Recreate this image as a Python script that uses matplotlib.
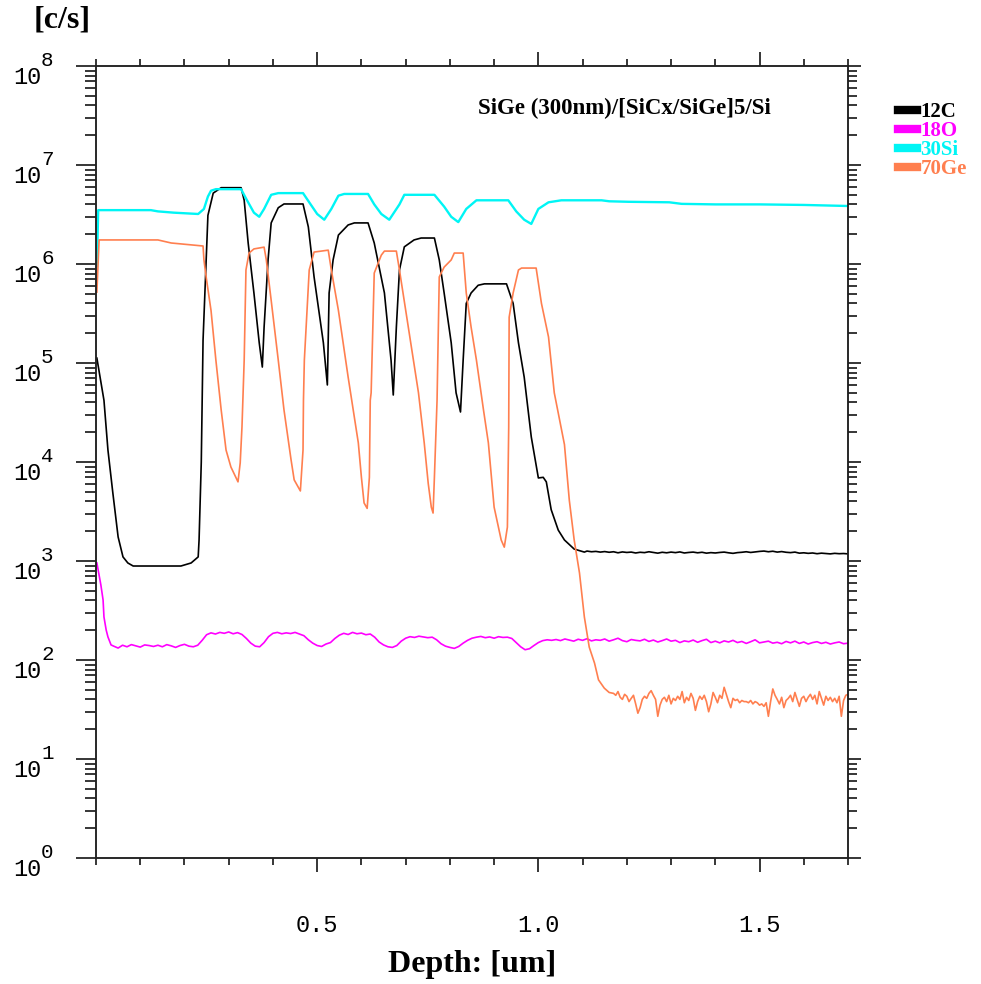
import matplotlib
matplotlib.use("Agg")
import matplotlib.pyplot as plt
import numpy as np
from matplotlib.ticker import LogLocator, MultipleLocator, FixedLocator, NullFormatter, FuncFormatter

# SIMS depth profile of SiGe(300nm)/[SiCx/SiGe]x5 on Si

# 30Si
si_depth = [0.002, 0.005, 0.124, 0.140, 0.176, 0.231, 0.244, 0.253, 0.260, 0.271, 0.328,
            0.339, 0.357, 0.369, 0.380, 0.396, 0.412, 0.468, 0.482, 0.500, 0.516, 0.532,
            0.548, 0.561, 0.615, 0.629, 0.645, 0.663, 0.686, 0.697, 0.765, 0.787, 0.803,
            0.819, 0.837, 0.860, 0.932, 0.950, 0.968, 0.984, 1.000, 1.023, 1.052, 1.143,
            1.160, 1.204, 1.296, 1.324, 1.400, 1.500, 1.600, 1.704]
si_counts = [9.5e5, 3.5e6, 3.5e6, 3.4e6, 3.3e6, 3.2e6, 3.6e6, 4.8e6, 5.5e6, 5.7e6, 5.7e6,
             4.6e6, 3.3e6, 3.0e6, 3.6e6, 5.0e6, 5.2e6, 5.2e6, 4.2e6, 3.2e6, 2.8e6, 3.6e6,
             4.9e6, 5.1e6, 5.1e6, 4.0e6, 3.2e6, 2.8e6, 4.0e6, 5.0e6, 5.0e6, 3.8e6, 3.0e6,
             2.65e6, 3.6e6, 4.4e6, 4.4e6, 3.4e6, 2.8e6, 2.54e6, 3.6e6, 4.2e6, 4.4e6, 4.4e6,
             4.3e6, 4.25e6, 4.2e6, 4.05e6, 4.0e6, 4.0e6, 3.95e6, 3.85e6]

# 12C
c_depth = [0.002, 0.018, 0.027, 0.038, 0.050, 0.061, 0.072, 0.084, 0.192, 0.215, 0.231,
           0.233, 0.238, 0.242, 0.249, 0.253, 0.265, 0.283, 0.328, 0.335, 0.344, 0.357,
           0.369, 0.376, 0.380, 0.389, 0.396, 0.412, 0.425, 0.468, 0.480, 0.493, 0.514,
           0.523, 0.527, 0.536, 0.548, 0.570, 0.584, 0.615, 0.629, 0.652, 0.667, 0.672,
           0.679, 0.686, 0.697, 0.719, 0.735, 0.765, 0.776, 0.787, 0.803, 0.814, 0.824,
           0.830, 0.837, 0.848, 0.864, 0.878, 0.928, 0.943, 0.955, 0.968, 0.984, 1.000,
           1.011, 1.018, 1.029, 1.045, 1.059, 1.081, 1.104]
c_counts = [1.12e5, 4.2e4, 1.32e4, 4.9e3, 1.75e3, 1.1e3, 955, 890, 890, 955, 1.1e3,
            1.63e3, 1.0e4, 1.7e5, 1.1e6, 3.1e6, 5.2e6, 5.9e6, 5.9e6, 4.4e6, 1.63e6, 5.1e5,
            1.6e5, 9.1e4, 2.3e5, 1.1e6, 2.6e6, 3.7e6, 4.04e6, 4.04e6, 2.37e6, 7.4e5, 1.6e5,
            6.0e4, 5.1e5, 1.1e6, 1.96e6, 2.48e6, 2.6e6, 2.6e6, 1.63e6, 5.1e5, 1.07e5, 4.75e4,
            2.3e5, 8.7e5, 1.49e6, 1.75e6, 1.83e6, 1.83e6, 1.1e6, 5.1e5, 1.6e5, 5.0e4, 3.2e4,
            1.07e5, 4.0e5, 5.1e5, 6.1e5, 6.3e5, 6.3e5, 4.0e5, 1.6e5, 7.2e4, 1.79e4, 6.9e3,
            7.0e3, 6.3e3, 3.3e3, 2.05e3, 1.63e3, 1.32e3, 1.23e3]
c_tail = [1260, 1240, 1250, 1230, 1245, 1225, 1240, 1210, 1235, 1220,
          1230, 1205, 1225, 1215, 1240, 1220, 1200, 1225, 1210, 1230,
          1215, 1235, 1205, 1220, 1230, 1210, 1225, 1200, 1215, 1205,
          1220, 1230, 1210, 1195, 1215, 1225, 1240, 1220, 1235, 1250,
          1260, 1240, 1255, 1230, 1245, 1225, 1215, 1230, 1200, 1210,
          1195, 1205, 1185, 1200, 1190, 1180, 1195, 1185, 1190, 1180]

# 18O
o_depth = [0.002, 0.011, 0.016, 0.018, 0.023, 0.027, 0.034]
o_counts = [955, 573, 404, 272, 201, 171, 142]
o_tail = [138, 132, 141, 136, 143, 139, 135, 142, 140, 137,
          141, 136, 143, 139, 134, 140, 144, 138, 136, 141,
          158, 180, 188, 183, 190, 186, 192, 184, 189, 181,
          165, 148, 138, 136, 150, 172, 186, 190, 184, 188,
          185, 190, 183, 176, 160, 148, 140, 137, 145, 150,
          165, 178, 186, 181, 190, 184, 187, 180, 183, 170,
          152, 142, 136, 134, 140, 155, 166, 172, 169, 174,
          171, 168, 170, 160, 146, 138, 134, 131, 137, 148,
          158, 166, 170, 173, 168, 171, 166, 172, 169, 170,
          165, 150, 136, 127, 130, 140, 150, 157, 160, 158,
          161, 157, 163, 159, 155, 162, 158, 164, 156, 160,
          158, 163, 155, 160, 166, 157, 153, 161, 158, 156,
          162, 154, 159, 152, 157, 163, 155, 158, 150, 156,
          153, 159, 151, 157, 162, 150, 155, 149, 156, 152,
          158, 150, 154, 147, 153, 160, 149, 152, 155, 148,
          151, 146, 154, 149, 155, 147, 152, 145, 150, 153,
          147, 151, 145, 149, 152, 146, 148]

# 70Ge
ge_depth = [0.002, 0.007, 0.140, 0.170, 0.215, 0.242, 0.244, 0.249, 0.260, 0.271, 0.283,
            0.294, 0.305, 0.321, 0.326, 0.330, 0.335, 0.339, 0.346, 0.357, 0.380, 0.385,
            0.396, 0.412, 0.425, 0.441, 0.448, 0.462, 0.468, 0.469, 0.471, 0.482, 0.493,
            0.525, 0.532, 0.548, 0.570, 0.593, 0.600, 0.606, 0.613, 0.618, 0.620, 0.622,
            0.629, 0.645, 0.652, 0.679, 0.686, 0.706, 0.729, 0.742, 0.751, 0.758, 0.762,
            0.765, 0.771, 0.776, 0.787, 0.803, 0.810, 0.830, 0.837, 0.848, 0.860, 0.876,
            0.887, 0.900, 0.916, 0.923, 0.930, 0.932, 0.933, 0.934, 0.943, 0.955, 0.962,
            0.995, 1.007, 1.023, 1.036, 1.059, 1.070, 1.081, 1.093, 1.104, 1.115, 1.127,
            1.136, 1.149, 1.160]
ge_counts = [5.2e5, 1.75e6, 1.75e6, 1.63e6, 1.56e6, 1.52e6, 1.1e6, 7.4e5, 3.4e5, 1.07e5, 3.35e4,
             1.32e4, 8.9e3, 6.3e3, 9.8e3, 2.26e4, 1.07e5, 8.7e5, 1.29e6, 1.42e6, 1.48e6, 1.1e6,
             4.3e5, 1.07e5, 3.35e4, 1.05e4, 6.6e3, 5.1e3, 1.32e4, 4.2e4, 1.07e5, 8.7e5, 1.32e6,
             1.38e6, 8.7e5, 3.4e5, 7.2e4, 1.56e4, 7.0e3, 3.86e3, 3.4e3, 7.0e3, 4.2e4, 5.0e4,
             8.1e5, 1.23e6, 1.35e6, 1.35e6, 8.7e5, 2.3e5, 5.0e4, 1.56e4, 6.1e3, 3.5e3, 3.05e3,
             7.0e3, 4.2e4, 7.4e5, 9.3e5, 1.1e6, 1.29e6, 1.29e6, 5.1e5, 2.3e5, 1.07e5, 3.35e4,
             1.56e4, 3.5e3, 1.63e3, 1.38e3, 2.2e3, 1.12e4, 2.26e4, 2.9e5, 5.1e5, 8.7e5, 9.1e5,
             9.1e5, 4.0e5, 1.83e5, 5.0e4, 1.5e4, 4.1e3, 1.63e3, 757, 272, 135, 93,
             63, 52, 47]
ge_tail = [46, 44, 48, 42, 40, 45, 43, 38, 41, 44,
           36, 29, 33, 40, 43, 41, 46, 49, 44, 40,
           27, 35, 40, 42, 38, 44, 36, 41, 39, 43,
           40, 48, 37, 42, 39, 46, 41, 31, 38, 43,
           40, 44, 38, 30, 36, 47, 42, 37, 44, 41,
           53, 45, 38, 33, 41, 39, 40, 37, 39, 38,
           38, 37, 39, 36, 38, 37, 35, 36, 34, 37,
           27, 38, 51, 44, 40, 36, 42, 33, 39, 41,
           44, 38, 47, 40, 34, 41, 43, 38, 42, 45,
           40, 44, 36, 48, 41, 35, 43, 39, 42, 38,
           41, 37, 43, 27, 39, 44, 45]

species = ["12C", "18O", "30Si", "70Ge"]
colors = ["#000000", "#ff00ff", "#00f5f5", "#ff7f4f"]
decades = list(range(0, 9))

# noisy plateaus are sampled on the instrument's regular depth grid
c_x = np.concatenate([c_depth, np.linspace(1.11, 1.70, len(c_tail))])
c_y = np.concatenate([c_counts, c_tail])
o_x = np.concatenate([o_depth, np.linspace(0.04, 1.70, len(o_tail))])
o_y = np.concatenate([o_counts, o_tail])
ge_x = np.concatenate([ge_depth, np.linspace(1.17, 1.70, len(ge_tail))])
ge_y = np.concatenate([ge_counts, ge_tail])

fig = plt.figure(figsize=(9.81, 9.84), dpi=100)
ax = fig.add_axes([96 / 981, 126 / 984, 752 / 981, 792 / 984])

series = [(c_x, c_y), (o_x, o_y), (np.array(si_depth), np.array(si_counts)), (ge_x, ge_y)]
for (x, y), name, col in zip(series, species, colors):
    lw = 1.7 if name == "30Si" else 1.2
    ax.plot(x, y, color=col, lw=lw, label=name)

ax.set_yscale("log")
ax.set_ylim(1, 1e8)
ax.set_xlim(0, 1.70)

mono = "Liberation Mono"
ax.xaxis.set_major_locator(FixedLocator([0.5, 1.0, 1.5]))
ax.xaxis.set_minor_locator(MultipleLocator(0.1))
ax.xaxis.set_major_formatter(FuncFormatter(lambda v, p: f"{v:.1f}"))
ax.yaxis.set_major_locator(LogLocator(base=10, numticks=12))
ax.yaxis.set_minor_locator(LogLocator(base=10, subs=np.arange(2, 10), numticks=12))
ax.yaxis.set_minor_formatter(NullFormatter())
ax.yaxis.set_major_formatter(NullFormatter())

ax.tick_params(axis="x", which="major", direction="out", length=10, width=1.1,
               top=True, pad=30, labelsize=17, labelfontfamily=mono)
ax.tick_params(axis="x", which="minor", direction="out", length=5, width=1.1, top=True)
ax.tick_params(axis="y", which="major", direction="out", length=14.5, width=1.1, right=False)
ax.tick_params(axis="y", which="minor", direction="out", length=8, width=1.1, right=False)

# decade labels: "10" hanging below the tick, exponent raised above it
ytrans = ax.get_yaxis_transform()
for k in decades:
    ax.text(-0.072, 10.0 ** k, "10", transform=ytrans, fontfamily=mono, fontsize=17,
            ha="right", va="top", clip_on=False)
    ax.text(-0.073, 10.0 ** k, str(k), transform=ytrans, fontfamily=mono, fontsize=15,
            ha="left", va="baseline", clip_on=False)

# right-hand scale with shorter ticks
ax_r = ax.twinx()
ax_r.set_yscale("log")
ax_r.set_ylim(1, 1e8)
ax_r.yaxis.set_major_locator(LogLocator(base=10, numticks=12))
ax_r.yaxis.set_minor_locator(LogLocator(base=10, subs=np.arange(2, 10), numticks=12))
ax_r.tick_params(axis="y", which="major", direction="out", length=9.5, width=1.1, labelright=False)
ax_r.tick_params(axis="y", which="minor", direction="out", length=6.5, width=1.1)

for a in (ax, ax_r):
    for s in a.spines.values():
        s.set_linewidth(1.1)
        s.set_color("#222222")

serif = "Liberation Serif"
ax.set_xlabel("Depth: [um]", fontfamily=serif, fontweight="bold", fontsize=23, labelpad=10)
fig.text(62 / 981, 1 - 20 / 984, "[c/s]", fontfamily=serif, fontweight="bold", fontsize=23,
         ha="center", va="center")
ax.text(0.508, 0.947, "SiGe (300nm)/[SiCx/SiGe]5/Si", transform=ax.transAxes,
        fontfamily=serif, fontweight="bold", fontsize=16.5, ha="left", va="center")

leg = ax.legend(loc="upper left", bbox_to_anchor=(898 / 981, 1 - 102 / 984),
                bbox_transform=fig.transFigure, frameon=False, borderpad=0, borderaxespad=0,
                handlelength=0.92, handletextpad=0.15, labelspacing=-0.05,
                prop={"family": serif, "size": 15, "weight": "bold"}, labelcolor="linecolor")
for h in leg.legend_handles:
    h.set_linewidth(6)

fig.savefig("out.png", dpi=100)
